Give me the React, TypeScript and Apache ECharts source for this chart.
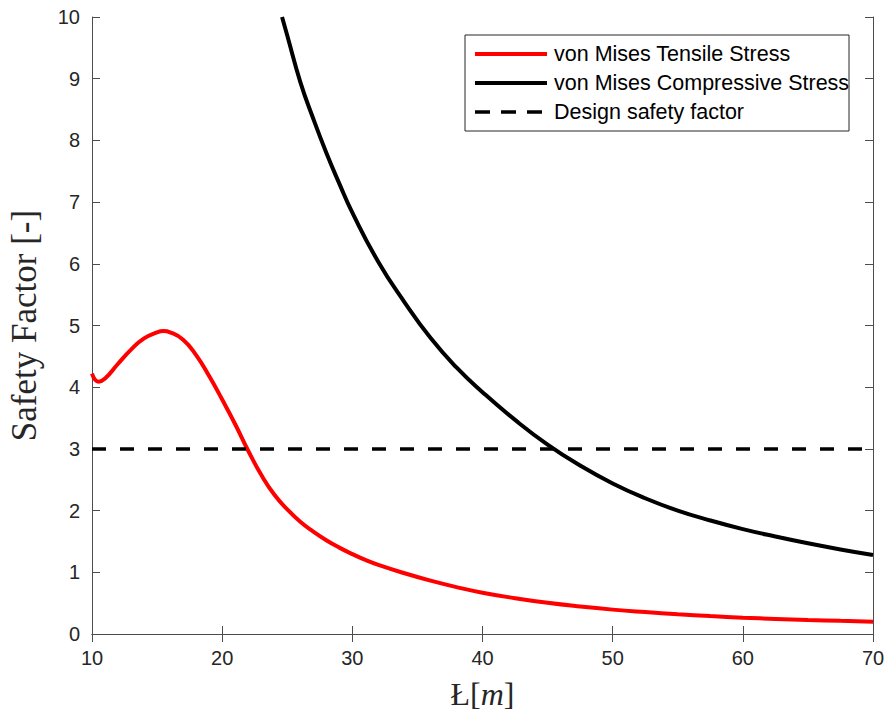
import React, { useEffect, useRef } from "react";
import * as echarts from "echarts";

const tensileX = [10, 10.5, 11, 12, 13, 14, 15, 15.5, 16, 17, 18, 19, 20, 21, 22, 23, 24, 25, 26, 27, 28, 29, 30, 31, 32, 34, 36, 38, 40, 42.5, 45, 47.5, 50, 52.5, 55, 57.5, 60, 62.5, 65, 67.5, 70];
const tensileY = [4.22, 4.09, 4.14, 4.38, 4.61, 4.79, 4.89, 4.91, 4.89, 4.77, 4.52, 4.18, 3.8, 3.4, 2.97, 2.58, 2.26, 2.02, 1.82, 1.66, 1.52, 1.40, 1.295, 1.2, 1.12, 0.985, 0.865, 0.76, 0.67, 0.58, 0.505, 0.445, 0.395, 0.355, 0.32, 0.29, 0.265, 0.245, 0.228, 0.213, 0.2];
const compX = [24.6, 25, 26, 27, 28, 29, 30, 32, 34, 36, 38, 40, 42.5, 45, 47.5, 50, 52.5, 55, 57.5, 60, 62.5, 65, 67.5, 70];
const compY = [10, 9.7, 8.95, 8.35, 7.8, 7.3, 6.83, 6.03, 5.38, 4.8, 4.32, 3.92, 3.47, 3.07, 2.73, 2.44, 2.2, 2.0, 1.84, 1.7, 1.58, 1.47, 1.37, 1.28];
const designX = [10, 70];
const designY = [3, 3];
const seriesNames = ["von Mises Tensile Stress", "von Mises Compressive Stress", "Design safety factor"];

const zip = (xs: number[], ys: number[]) => xs.map((x, i) => [x, ys[i]]);

export default function App() {
  const ref = useRef<HTMLDivElement>(null);
  useEffect(() => {
    const chart = echarts.init(ref.current!, undefined, { renderer: "svg" });
    const axisColor = "#4d4d4d";
    const labelColor = "#262626";
    const sans = "'Liberation Sans', Arial, sans-serif";
    const serif = "'Liberation Serif', 'Times New Roman', serif";
    chart.setOption({
      animation: false,
      backgroundColor: "#ffffff",
      grid: { left: 92, right: 16, top: 17, bottom: 79, containLabel: false, outerBoundsMode: "none" },
      legend: {
        orient: "vertical",
        left: 473,
        top: 43,
        itemWidth: 72,
        itemHeight: 14,
        itemGap: 7,
        padding: 0,
        itemStyle: { opacity: 0 },
        data: [
          { name: seriesNames[0], lineStyle: { width: 4 } },
          { name: seriesNames[1], lineStyle: { width: 4 } },
          { name: seriesNames[2], lineStyle: { width: 3.5, type: [15, 11] } },
        ],
        textStyle: { fontFamily: sans, fontSize: 21.5, color: "#000", lineHeight: 22, padding: [0, 0, 0, 2] },
      },
      graphic: [
        {
          type: "rect",
          shape: { x: 465, y: 35, width: 384, height: 96 },
          style: { fill: "none", stroke: "#262626", lineWidth: 1 },
          z: 10,
        },
      ],
      xAxis: [
        {
          type: "value",
          min: 10,
          max: 70,
          interval: 10,
          name: "{a|Ł}{b|[}{c|m}{b|]}",
          nameLocation: "middle",
          nameGap: 44,
          nameTextStyle: {
            rich: {
              a: { fontFamily: serif, fontSize: 32, color: labelColor },
              b: { fontFamily: serif, fontSize: 32, color: labelColor },
              c: { fontFamily: serif, fontSize: 32, fontStyle: "italic", color: labelColor },
            },
          },
          axisLine: { show: true, lineStyle: { color: axisColor, width: 1 } },
          axisTick: { show: true, inside: true, length: 8, lineStyle: { color: axisColor } },
          axisLabel: { fontFamily: sans, fontSize: 20, color: labelColor, margin: 14 },
          splitLine: { show: false },
        },
        {
          type: "value",
          position: "top",
          min: 10,
          max: 70,
          interval: 10,
          axisLine: { show: true, lineStyle: { color: axisColor, width: 1 } },
          axisTick: { show: true, inside: true, length: 8, lineStyle: { color: axisColor } },
          axisLabel: { show: false },
          splitLine: { show: false },
        },
      ],
      yAxis: [
        {
          type: "value",
          min: 0,
          max: 10,
          interval: 1,
          name: "Safety Factor [-]",
          nameLocation: "middle",
          nameGap: 50,
          nameRotate: 90,
          nameTextStyle: { fontFamily: serif, fontSize: 35, color: labelColor },
          axisLine: { show: true, lineStyle: { color: axisColor, width: 1 } },
          axisTick: { show: true, inside: true, length: 8, lineStyle: { color: axisColor } },
          axisLabel: { fontFamily: sans, fontSize: 20, color: labelColor, margin: 12 },
          splitLine: { show: false },
        },
        {
          type: "value",
          position: "right",
          min: 0,
          max: 10,
          interval: 1,
          axisLine: { show: true, lineStyle: { color: axisColor, width: 1 } },
          axisTick: { show: true, inside: true, length: 8, lineStyle: { color: axisColor } },
          axisLabel: { show: false },
          splitLine: { show: false },
        },
      ],
      series: [
        {
          name: seriesNames[0],
          type: "line",
          data: zip(tensileX, tensileY),
          showSymbol: false,
          symbol: "none",
          smooth: 0.5,
          lineStyle: { color: "#ff0000", width: 4 },
          itemStyle: { color: "#ff0000" },
          clip: true,
        },
        {
          name: seriesNames[1],
          type: "line",
          data: zip(compX, compY),
          showSymbol: false,
          symbol: "none",
          smooth: 0.5,
          lineStyle: { color: "#000000", width: 4 },
          itemStyle: { color: "#000000" },
          clip: true,
        },
        {
          name: seriesNames[2],
          type: "line",
          data: zip(designX, designY),
          showSymbol: false,
          symbol: "none",
          lineStyle: { color: "#000000", width: 3.5, type: [14, 14] },
          itemStyle: { color: "#000000" },
        },
      ],
    });
    return () => chart.dispose();
  }, []);
  return <div ref={ref} style={{ width: 889, height: 713, position: "absolute", left: 0, top: 0 }} />;
}
